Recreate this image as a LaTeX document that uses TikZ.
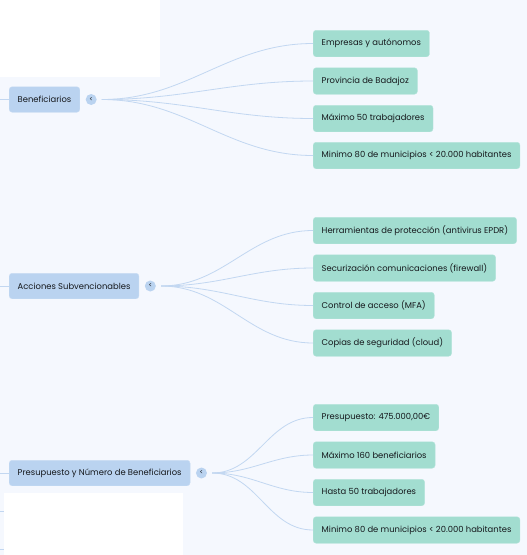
\documentclass[tikz,border=0pt]{standalone}
\usepackage{fontspec}
\setmainfont{Poppins}
\usetikzlibrary{positioning}

\definecolor{bgblue}{HTML}{F5F8FE}
\definecolor{topicfill}{HTML}{BAD3F0}
\definecolor{topicline}{HTML}{C8DCF3}
\definecolor{itemfill}{HTML}{A2DDD0}
\definecolor{itemline}{HTML}{B4E4DA}
\definecolor{branchcol}{HTML}{C2D7F1}
\definecolor{ink}{HTML}{15181C}

\begin{document}
\begin{tikzpicture}[x=1pt, y=-1pt, thin]

	\tikzstyle{topic}=[rectangle, rounded corners=3pt, fill=topicfill, draw=topicline, text=ink, minimum height=25.5pt, inner xsep=8.5pt, anchor=west, font=\fontsize{8.4}{10}\selectfont]
	\tikzstyle{item}=[rectangle, rounded corners=3pt, fill=itemfill, draw=itemline, text=ink, minimum height=26.5pt, inner xsep=8.5pt, anchor=west, font=\fontsize{8.4}{10}\selectfont]
	\tikzstyle{fold}=[circle, fill=topicfill, text=ink, minimum size=11pt, inner sep=0pt, font=\fontsize{6.5}{6.5}\selectfont]
	\tikzstyle{branch}=[draw=branchcol, line width=0.8pt]
	\tikzstyle{blank}=[rectangle, fill=white, inner sep=0pt, anchor=north west]

	% background and cut-off parts of the map
	\fill[bgblue] (0,0) rectangle (527,555);
	\useasboundingbox (0,0) rectangle (527,555);
	\node[blank, minimum width=160pt, minimum height=77pt] (top) at (0,0) {};
	\node[blank, minimum width=179pt, minimum height=62pt] (bot) at (4,493) {};

	% main topics
	\node[topic] (ben) at (9,99.5)  {Beneficiarios};
	\node[topic] (acc) at (9,286)   {Acciones Subvencionables};
	\node[topic] (pre) at (9,473)   {Presupuesto y Número de Beneficiarios};

	\node[fold, right=5.5pt of ben] (fben) {<};
	\node[fold, right=5.5pt of acc] (facc) {<};
	\node[fold, right=5.5pt of pre] (fpre) {<};

	% items
	\node[item] (ben1) at (313,43.5)  {Empresas y autónomos};
	\node[item] (ben2) at (313,81)    {Provincia de Badajoz};
	\node[item] (ben3) at (313,118.5) {Máximo 50 trabajadores};
	\node[item] (ben4) at (313,155.5) {Minimo 80 de municipios < 20.000 habitantes};

	\node[item] (acc1) at (313,230.5) {Herramientas de protección (antivirus EPDR)};
	\node[item] (acc2) at (313,268)   {Securización comunicaciones (firewall)};
	\node[item] (acc3) at (313,305.5) {Control de acceso (MFA)};
	\node[item] (acc4) at (313,343)   {Copias de seguridad (cloud)};

	\node[item] (pre1) at (313,417.5) {Presupuesto: 475.000,00€};
	\node[item] (pre2) at (313,455)   {Máximo 160 beneficiarios};
	\node[item] (pre3) at (313,492.5) {Hasta 50 trabajadores};
	\node[item] (pre4) at (313,530)   {Minimo 80 de municipios < 20.000 habitantes};

	% branches
	\foreach \t in {ben,acc,pre}
		\foreach \i in {1,2,3,4}
			\draw[branch] ([xshift=5pt]f\t.east) to[out=0, in=180] (\t\i.west);

	% stubs of the parent links on the left
	\coordinate (e1) at (0,99.5);
	\coordinate (e2) at (0,286);
	\coordinate (e3) at (0,473);
	\coordinate (e4) at (0,511.5);
	\coordinate (e5) at (0,549);
	\draw[branch] (e1) -- (ben.west);
	\draw[branch] (e2) -- (acc.west);
	\draw[branch] (e3) -- (pre.west);
	\draw[branch] (e4) -- (e4 -| bot.west);
	\draw[branch] (e5) -- (e5 -| bot.west);

\end{tikzpicture}
\end{document}
